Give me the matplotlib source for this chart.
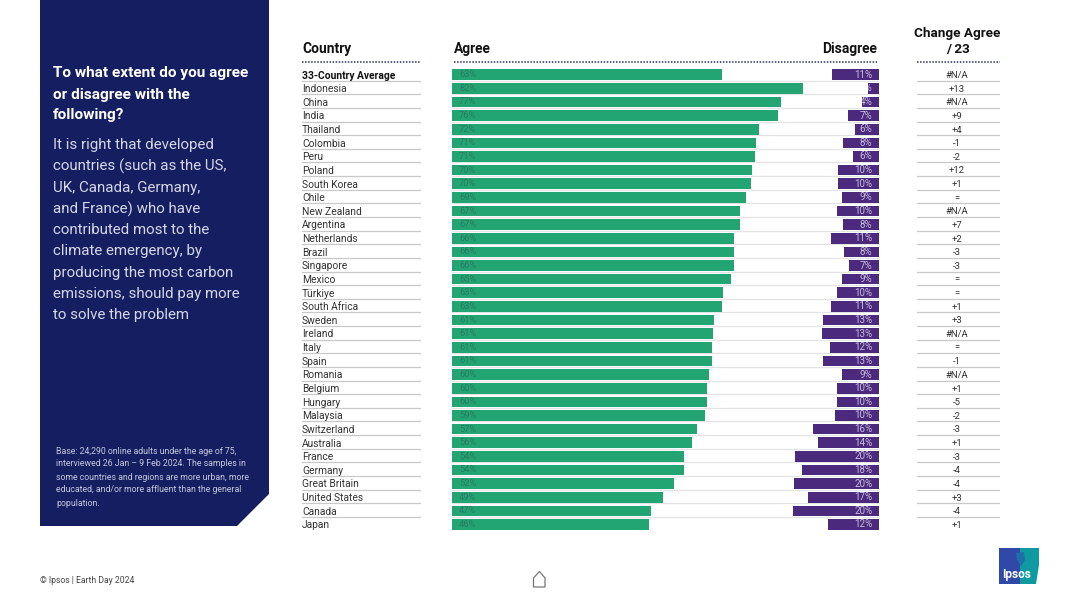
import matplotlib
matplotlib.use('Agg')
import matplotlib.pyplot as plt
from matplotlib.patches import Polygon

plt.rcParams['font.family'] = ['Roboto', 'DejaVu Sans']

countries = ['33-Country Average', 'Indonesia', 'China', 'India', 'Thailand', 'Colombia', 'Peru', 'Poland',
             'South Korea', 'Chile', 'New Zealand', 'Argentina', 'Netherlands', 'Brazil', 'Singapore', 'Mexico',
             'Türkiye', 'South Africa', 'Sweden', 'Ireland', 'Italy', 'Spain', 'Romania', 'Belgium', 'Hungary',
             'Malaysia', 'Switzerland', 'Australia', 'France', 'Germany', 'Great Britain', 'United States',
             'Canada', 'Japan']
agree = [63, 82, 76.9, 76.2, 71.7, 71.1, 70.8, 70.1, 69.9, 68.7, 67.3, 67.2, 66, 66, 66, 65.1, 63.3, 63,
         61.2, 61, 60.7, 60.7, 60, 59.6, 59.5, 59, 57.2, 56.1, 54.2, 54.2, 51.9, 49.3, 46.6, 46.1]
disagree = [10.9, 2.6, 4, 7.2, 5.6, 8.3, 6, 9.5, 9.5, 8.6, 9.8, 8.3, 11.1, 8.1, 6.9, 8.6, 9.7, 11.2,
            13.2, 13.4, 11.5, 13.2, 8.7, 9.8, 9.7, 10.2, 15.5, 14.3, 19.6, 18.1, 19.8, 16.6, 20.2, 11.9]
change = ['#N/A', '+13', '#N/A', '+9', '+4', '-1', '-2', '+12', '+1', '=', '#N/A', '+7', '+2', '-3', '-3', '=',
          '=', '+1', '+3', '#N/A', '=', '-1', '#N/A', '+1', '-5', '-2', '-3', '+1', '-3', '-4', '-4', '+3', '-4', '+1']

NAVY = '#141E61'
GREEN = '#22A573'
PURPLE = '#4B2A7E'
W, H = 1080, 607
TOP, BOTTOM = 67.9, 531.3  # pixel span of the rows

fig = plt.figure(figsize=(10.8, 6.07), dpi=100, facecolor='white')

# page layer, in pixels
bg = fig.add_axes([0, 0, 1, 1])
bg.set_xlim(0, W)
bg.set_ylim(H, 0)
bg.axis('off')

bg.add_patch(Polygon([(40, 0), (269, 0), (269, 494), (237, 526), (40, 526)], fc=NAVY, ec='none'))

title = ['To what extent do you agree', 'or disagree with the', 'following?']
for i, s in enumerate(title):
    bg.text(53, 73.5 + i * 21, s, color='white', fontsize=11.1, fontweight='bold', va='center')

body = ['It is right that developed', 'countries (such as the US,', 'UK, Canada, Germany,',
        'and France) who have', 'contributed most to the', 'climate emergency, by',
        'producing the most carbon', 'emissions, should pay more', 'to solve the problem']
for i, s in enumerate(body):
    bg.text(53, 145.5 + i * 21.2, s, color='#D5D7E6', fontsize=10.9, va='center')

base = ['Base: 24,290 online adults under the age of 75,', 'interviewed 26 Jan – 9 Feb 2024. The samples in',
        'some countries and regions are more urban, more', 'educated, and/or more affluent than the general',
        'population.']
for i, s in enumerate(base):
    bg.text(56, 451 + i * 13, s, color='#C5C8DE', fontsize=6.3, va='center')

bg.text(40, 580.5, '© Ipsos | Earth Day 2024', color='#444444', fontsize=6.2, va='center')

# home icon
bg.add_patch(Polygon([(533.5, 587), (533.5, 578), (539.5, 571.5), (545, 578), (545, 587)],
                     fc='white', ec='#777777', lw=0.9))

# logo
bg.add_patch(Polygon([(999, 548), (1020, 548), (1020, 584), (999, 584)], fc='#3048A8', ec='none'))
bg.add_patch(Polygon([(1020, 548), (1039, 548), (1039, 565), (1036, 584), (1020, 584)], fc='#0E9AA0', ec='none'))
bg.add_patch(Polygon([(1016, 553), (1024, 552), (1025, 560), (1021, 566), (1017, 560)], fc='#1F6FA8', ec='none'))
bg.text(1017, 574.5, 'Ipsos', color='white', fontsize=8.6, fontweight='bold', ha='center', va='center')

# column headers
bg.text(302, 49, 'Country', color='#111111', fontsize=9.9, fontweight='bold', va='center')
bg.text(454, 49, 'Agree', color='#111111', fontsize=9.9, fontweight='bold', va='center')
bg.text(877, 49, 'Disagree', color='#111111', fontsize=9.9, fontweight='bold', va='center', ha='right')
bg.text(957.5, 33, 'Change Agree', color='#111111', fontsize=9.7, fontweight='bold', va='center', ha='center')
bg.text(957.5, 49, '/ 23', color='#111111', fontsize=9.7, fontweight='bold', va='center', ha='center')
for x0, x1 in [(302, 421), (454, 877), (917, 1000)]:
    bg.plot([x0, x1], [61.5, 61.5], color='#2A3560', lw=1.1, ls=(0, (1, 1)))


def column(x0, x1, xlim):
    ax = fig.add_axes([x0 / W, 1 - BOTTOM / H, (x1 - x0) / W, (BOTTOM - TOP) / H])
    ax.set_xlim(*xlim)
    ax.set_ylim(len(countries) - 0.5, -0.5)
    ax.axis('off')
    ax.patch.set_alpha(0)
    return ax


scale_max = 427 / 4.28  # percent points across the bar column
ax_c = column(302, 421, (0, 1))
ax_b = column(452, 879, (0, scale_max))
ax_d = column(917, 1000, (0, 1))

rows = range(len(countries))

# row rules
for i in rows[:-1]:
    ax_c.axhline(i + 0.44, color='#C9C9C9', lw=0.9)
    ax_d.axhline(i + 0.44, color='#C9C9C9', lw=0.9)
    ax_b.axhline(i + 0.44, color='#E4E4E4', lw=0.9, zorder=1)

ax_b.barh(rows, agree, height=0.78, color=GREEN, zorder=2)
dis_bars = ax_b.barh(rows, disagree, left=[scale_max - d for d in disagree], height=0.78, color=PURPLE, zorder=2)

for i in rows:
    ax_c.text(0, i + 0.06, countries[i], color='#333333' if i else '#111111', fontsize=7.4,
              fontweight='bold' if i == 0 else 'normal', va='center')
    ax_b.text(1.65, i, '%d%%' % round(agree[i]), color='#2C7A63', fontsize=6.7, va='center', zorder=3)
    t = ax_b.text(scale_max - 1.6, i, '%d%%' % round(disagree[i]), color='#C9BEDD', fontsize=7,
                  va='center', ha='right', zorder=3)
    # short bars cut their label off, as in the source slide
    t.set_clip_on(True)
    t.set_clip_path(dis_bars[i])
    ax_d.text(0.48, i + 0.06, change[i], color='#333333', fontsize=6.8, va='center', ha='center')

fig.savefig('out.png', dpi=100)
